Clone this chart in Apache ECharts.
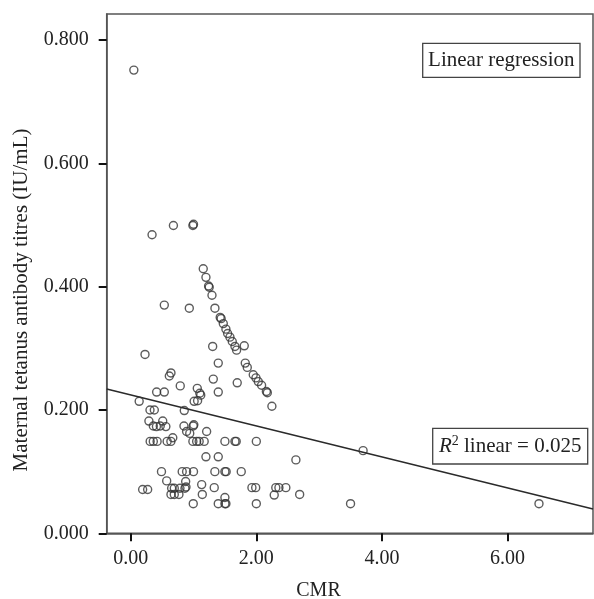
<!DOCTYPE html>
<html>
<head>
<meta charset="utf-8">
<script src="https://cdn.jsdelivr.net/npm/echarts@6/dist/echarts.min.js"></script>
<style>
html,body{margin:0;padding:0;background:#fff;}
#chart{width:594px;height:599px;}
</style>
</head>
<body>
<div id="chart"></div>
<script>
// CMR values (x)
var cmr = [
  0.05, 0.34, 0.68, 0.99, 1.00, 1.155, 1.198, 1.24, 1.25, 1.294,
  0.535, 0.933, 1.341, 1.425, 1.44, 1.474, 1.516, 1.543, 1.58, 1.617,
  1.66, 1.686, 1.808, 1.305, 0.228, 1.824, 1.856, 1.394, 0.641, 0.615,
  1.951, 1.994, 2.031, 2.084, 2.16, 2.175, 1.315, 1.696, 0.789, 1.06,
  1.10, 1.115, 1.394, 0.413, 0.535, 1.01, 1.065, 0.135, 2.248, 0.307,
  0.376, 0.853, 0.29, 0.36, 0.41, 0.47, 0.51, 0.56, 0.848, 0.996,
  1.005, 0.89, 0.94, 1.209,
  0.31, 0.36, 0.42, 0.58, 0.64, 0.67, 0.99, 1.05, 1.09, 1.17, 1.50, 1.66, 1.68, 2.00,
  1.198, 1.394, 2.63,
  0.49, 0.82, 0.89, 1.00, 1.34, 1.50, 1.52, 1.76,
  0.573, 0.875, 1.13,
  0.19, 0.27, 0.652, 0.694, 0.784, 0.864, 0.88, 1.33, 1.93, 1.99, 2.31, 2.36, 2.47,
  0.641, 0.694, 0.768, 1.14, 1.50, 2.285, 2.69,
  0.996, 1.394, 1.50, 1.516, 2.0, 3.50, 6.50,
  3.70
];
// Maternal tetanus antibody titres (y)
var titres = [
  0.751, 0.484, 0.499, 0.499, 0.501, 0.429, 0.415, 0.401, 0.399, 0.386,
  0.370, 0.365, 0.365, 0.350, 0.348, 0.340, 0.331, 0.324, 0.318, 0.311,
  0.303, 0.297, 0.304, 0.303, 0.290, 0.276, 0.269, 0.276, 0.260, 0.255,
  0.257, 0.252, 0.246, 0.240, 0.230, 0.228, 0.250, 0.244, 0.239, 0.235,
  0.227, 0.224, 0.229, 0.229, 0.229, 0.214, 0.215, 0.214, 0.206, 0.200,
  0.200, 0.199, 0.182, 0.174, 0.173, 0.174, 0.182, 0.173, 0.174, 0.174,
  0.176, 0.165, 0.162, 0.165,
  0.149, 0.149, 0.149, 0.149, 0.149, 0.155, 0.149, 0.149, 0.149, 0.149, 0.149, 0.149, 0.149, 0.149,
  0.124, 0.124, 0.119,
  0.100, 0.100, 0.100, 0.100, 0.100, 0.100, 0.100, 0.100,
  0.085, 0.084, 0.079,
  0.071, 0.071, 0.073, 0.073, 0.073, 0.073, 0.075, 0.074, 0.074, 0.074, 0.074, 0.074, 0.074,
  0.063, 0.063, 0.063, 0.063, 0.058, 0.062, 0.063,
  0.048, 0.048, 0.048, 0.048, 0.048, 0.048, 0.048,
  0.134
];
// Regression line endpoints
var fitX = [-0.382, 7.36];
var fitY = [0.234, 0.0394];
// Tick labels
var xTicks = [0, 2, 4, 6];
var yTicks = [0, 0.2, 0.4, 0.6, 0.8];

var points = cmr.map(function (x, i) { return [x, titres[i]]; });
var fitLine = fitX.map(function (x, i) { return [x, fitY[i]]; });

var FONT = 'Liberation Serif';
var chart = echarts.init(document.getElementById('chart'), null, {renderer: 'canvas'});
chart.setOption({
  animation: false,
  backgroundColor: '#fff',
  grid: {left: 106.7, right: 1, top: 14, bottom: 65.7, show: true, borderColor: '#555', borderWidth: 1.5, backgroundColor: 'transparent'},
  xAxis: {
    type: 'value', min: -0.382, max: 7.36,
    splitLine: {show: false},
    axisLine: {show: true, onZero: false, lineStyle: {color: '#555', width: 1.5}},
    axisTick: {show: true, inside: false, length: 8, lineStyle: {color: '#111', width: 2}, customValues: xTicks},
    axisLabel: {customValues: xTicks, margin: 15, fontFamily: FONT, fontSize: 20, color: '#222',
      formatter: function (v) { return v.toFixed(2); }}
  },
  yAxis: {
    type: 'value', min: 0, max: 0.842,
    splitLine: {show: false},
    axisLine: {show: true, onZero: false, lineStyle: {color: '#555', width: 1.5}},
    axisTick: {show: true, inside: false, length: 8, lineStyle: {color: '#111', width: 2}, customValues: yTicks},
    axisLabel: {customValues: yTicks, margin: 18, fontFamily: FONT, fontSize: 20, color: '#222',
      formatter: function (v) { return v.toFixed(3); }}
  },
  series: [
    {
      type: 'scatter', data: points, symbol: 'circle', symbolSize: 8,
      itemStyle: {color: 'rgba(0,0,0,0)', borderColor: '#333', borderWidth: 1.4},
      emphasis: {disabled: true}, silent: true, z: 3
    },
    {
      type: 'line', data: fitLine, showSymbol: false, symbol: 'none',
      lineStyle: {color: '#2a2a2a', width: 1.5}, silent: true, z: 2
    }
  ],
  graphic: [
    {type: 'text', x: 318.5, y: 590.7, style: {text: 'CMR', font: '20px "Liberation Serif"', fill: '#222', align: 'center', verticalAlign: 'middle'}},
    {type: 'text', x: 21.7, y: 300, rotation: Math.PI / 2, style: {text: 'Maternal tetanus antibody titres (IU/mL)', font: '21px "Liberation Serif"', fill: '#222', align: 'center', verticalAlign: 'middle'}},
    {type: 'rect', shape: {x: 422.7, y: 43.3, width: 157.3, height: 34}, style: {fill: '#fff', stroke: '#444', lineWidth: 1.3}, z: 10},
    {type: 'text', x: 501.3, y: 60.5, style: {text: 'Linear regression', font: '21px "Liberation Serif"', fill: '#222', align: 'center', verticalAlign: 'middle'}, z: 11},
    {type: 'rect', shape: {x: 432.7, y: 428.3, width: 155, height: 35.7}, style: {fill: '#fff', stroke: '#444', lineWidth: 1.3}, z: 10},
    {type: 'text', x: 510.2, y: 446.5, style: {
      text: '{i|R}{s|2} linear = 0.025',
      font: '21px "Liberation Serif"', fill: '#222', align: 'center', verticalAlign: 'middle',
      rich: {
        i: {fontFamily: FONT, fontSize: 21, fontStyle: 'italic', fill: '#222'},
        s: {fontFamily: FONT, fontSize: 14, fill: '#222', verticalAlign: 'top', padding: [0, 0, 10, 0]}
      }
    }, z: 11}
  ]
});
</script>
</body>
</html>
